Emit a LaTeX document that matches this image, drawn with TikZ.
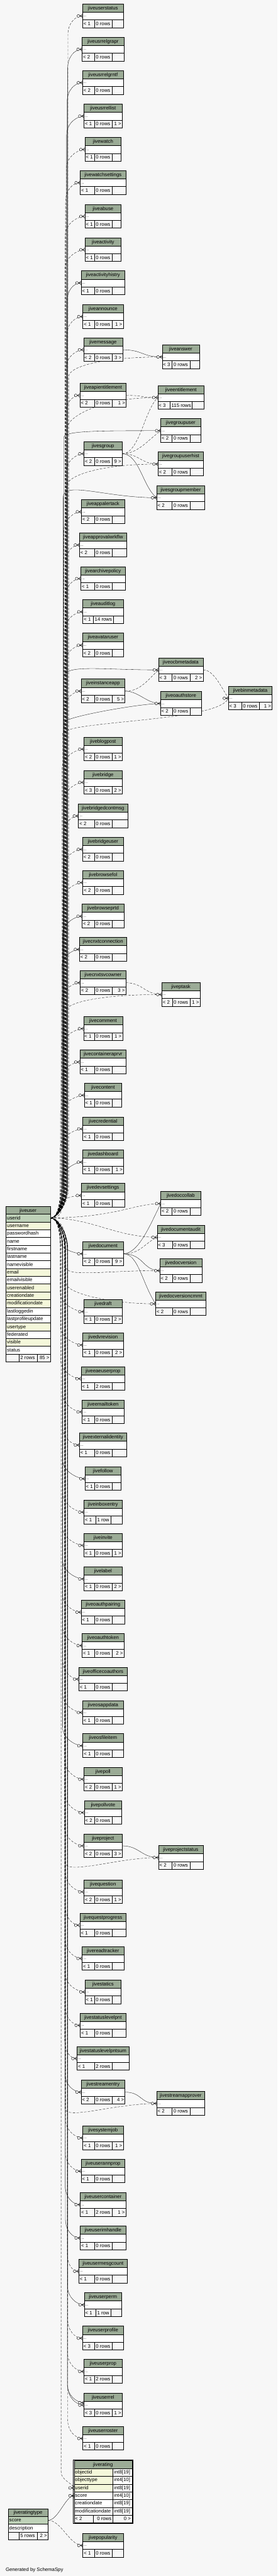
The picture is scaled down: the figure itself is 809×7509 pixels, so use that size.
\documentclass[tikz,border=0pt]{standalone}
\usepackage{fontspec}
\setmainfont{Liberation Sans}
\usetikzlibrary{calc}
\definecolor{bgc}{HTML}{F7F7F7}
\definecolor{hdc}{HTML}{9BAB96}
\definecolor{pkc}{HTML}{BED1B8}
\definecolor{ixc}{HTML}{F4F7DA}
\newcommand\tabfnt{\fontsize{14.3}{16}\selectfont}
\newcommand\dotfnt{\fontsize{11}{12}\selectfont}
\pgfdeclarelayer{bgl}
\pgfdeclarelayer{edl}
\pgfsetlayers{bgl,edl,main}
\tikzset{
 hdr/.style={draw, line width=0.9pt, fill=hdc, minimum height=24pt, inner sep=0pt, outer sep=0pt, font=\tabfnt, text height=12pt, text depth=2pt},
 brow/.style={draw, line width=0.9pt, fill=white, minimum height=22.5pt, inner sep=0pt, outer sep=0pt},
 cellst/.style={draw, line width=0.9pt, fill=bgc},
 rowc/.style={draw, line width=0.9pt, inner sep=0pt, outer sep=0pt},
 ftx/.style={font=\tabfnt, inner sep=0pt, outer sep=0pt},
 dotx/.style={font=\dotfnt, inner sep=0pt, outer sep=0pt},
 fkd/.style={line width=0.6pt, dash pattern=on 7pt off 4pt},
 fks/.style={line width=0.6pt},
 footst/.style={line width=0.8pt},
}
\newcommand\tblx[9]{%
\pgfmathsetmacro\tbL{#2-#4/2}%
\pgfmathsetmacro\tbR{#2+#4/2}%
\pgfmathsetmacro\tbA{#3+24}%
\pgfmathsetmacro\tbB{#3+46.5}%
\pgfmathsetmacro\tbC{#3+69}%
\pgfmathsetmacro\tbmL{#2-#8}%
\pgfmathsetmacro\tbmR{#2+#9}%
\pgfmathsetmacro\tbD{#3+38}%
\pgfmathsetmacro\tbF{#3+63}%
\pgfmathsetmacro\tbdx{\tbL+2.5}%
\pgfmathsetmacro\tbfl{\tbL+3}%
\pgfmathsetmacro\tbfm{\tbmL+4}%
\pgfmathsetmacro\tbfr{\tbR-3}%
\node[hdr,minimum width=#4pt,anchor=north] (#1-h) at (#2,#3) {#1};%
\node[brow,minimum width=#4pt,anchor=north] (#1) at (#2,\tbA) {};%
\node[dotx,anchor=base west] (#1-d) at (\tbdx,\tbD) {...};%
\draw[cellst] (\tbL,\tbB) rectangle (\tbmL,\tbC);%
\draw[cellst] (\tbmL,\tbB) rectangle (\tbmR,\tbC);%
\draw[cellst] (\tbmR,\tbB) rectangle (\tbR,\tbC);%
\node[ftx,anchor=base west] (#1-fl) at (\tbfl,\tbF) {#5};%
\node[ftx,anchor=base west] (#1-fm) at (\tbfm,\tbF) {#6};%
\node[ftx,anchor=base east] (#1-fr) at (\tbfr,\tbF) {#7};%
}
\newcommand\tbl[7]{\tblx{#1}{#2}{#3}{#4}{#5}{#6}{#7}{25}{26.5}}
% edge from jiveuser.userid to a table of the main column
\newcommand\uA[3]{%
\pgfmathsetmacro\fkYi{#2+35.25}%
\pgfmathsetmacro\fkD{\fkYi-3550.4}%
\pgfmathsetmacro\fkS{ifthenelse(\fkD<0,-1,1)}%
\pgfmathsetmacro\fkA{abs(\fkD)}%
\pgfmathsetmacro\fkHa{min(90,0.4*\fkA)}%
\pgfmathsetmacro\fkHb{min(55,0.35*\fkA)}%
\pgfmathsetmacro\fkX{176+22*(\fkA/3700)+mod(round(#2),7)-3}%
\pgfmathsetmacro\fkYB{3550.4+(\fkS)*\fkHa}%
\pgfmathsetmacro\fkYBc{3550.4+(\fkS)*\fkHa*0.5}%
\pgfmathsetmacro\fkYC{\fkYi-(\fkS)*\fkHb}%
\pgfmathsetmacro\fkYCc{\fkYi-(\fkS)*\fkHb*0.4}%
\begin{pgfonlayer}{edl}%
\draw[#3] (jiveuser-userid.east) .. controls (169,3550.4) and (\fkX,\fkYBc) .. (\fkX,\fkYB) -- (\fkX,\fkYC) .. controls (\fkX,\fkYCc) and +(-22,0) .. (#1.west);%
\end{pgfonlayer}}
% edge from jiveuser.userid with explicit channel parameters
\newcommand\uX[6]{%
\pgfmathsetmacro\fkD{#3-3550.4}%
\pgfmathsetmacro\fkS{ifthenelse(\fkD<0,-1,1)}%
\pgfmathsetmacro\fkA{abs(\fkD)}%
\pgfmathsetmacro\fkHa{min(90,0.4*\fkA)}%
\pgfmathsetmacro\fkYB{3550.4+(\fkS)*\fkHa}%
\pgfmathsetmacro\fkYBc{3550.4+(\fkS)*\fkHa*0.5}%
\pgfmathsetmacro\fkYCc{#3+(#4)}%
\begin{pgfonlayer}{edl}%
\draw[#6] (jiveuser-userid.east) .. controls (169,3550.4) and (#2,\fkYBc) .. (#2,\fkYB) -- (#2,#3) .. controls (#2,\fkYCc) and +(#5) .. (#1);%
\end{pgfonlayer}}
\newcommand\tedge[4]{\begin{pgfonlayer}{edl}\draw[#4] (#1) .. controls +(#3) .. (#2);\end{pgfonlayer}}
\newcommand\crow[1]{\begin{scope}[shift={(#1)}]\draw[footst] (-7,0) -- (0,-5) (-7,0) -- (0,0) (-7,0) -- (0,5);\draw[footst,fill=bgc] (-12,0) circle (4);\end{scope}}
\begin{document}
\begin{tikzpicture}[x=1pt,y=-1pt]
\begin{pgfonlayer}{bgl}
\fill[bgc] (0,0) rectangle (809,7509);
\end{pgfonlayer}
\useasboundingbox (0,0) rectangle (809,7509);

% ---------- jiveuser ----------
\node[hdr,minimum width=130.5pt,minimum height=22.5pt,anchor=north west] (jiveuser-h) at (16.5,3516.6) {jiveuser};
\foreach \nm/\cl [count=\i from 0] in {userid/pkc,username/ixc,passwordhash/white,name/white,firstname/white,lastname/white,namevisible/white,email/ixc,emailvisible/white,userenabled/ixc,creationdate/ixc,modificationdate/ixc,lastloggedin/white,lastprofileupdate/white,usertype/ixc,federated/white,visible/ixc,status/white}{
 \node[rowc,fill=\cl,minimum width=130.5pt,minimum height=22.65pt,anchor=north west] (jiveuser-\nm) at (16.5,{3539.1+\i*22.65}) {};
 \node[ftx,anchor=base west] (jiveuser-\nm-x) at (20.5,{3539.1+\i*22.65+15.6}) {\nm};
}
\draw[cellst] (16.5,3946.8) rectangle (56.2,3969.5);
\draw[cellst] (56.2,3946.8) rectangle (108.4,3969.5);
\draw[cellst] (108.4,3946.8) rectangle (147,3969.5);
\node[ftx,anchor=base west] (jiveuser-fm) at (59.5,3962.6) {2 rows};
\node[ftx,anchor=base east] (jiveuser-fr) at (144,3962.6) {85 >};

% ---------- main column ----------
\tbl{jiveuserstatus}{300.3}{11.2}{119.7}{< 1}{0 rows}{}
\tbl{jiveusrrelgrapr}{300.3}{108.5}{121.8}{< 2}{0 rows}{}
\tbl{jiveusrrelgrntf}{300.3}{205.7}{119.7}{< 2}{0 rows}{}
\tbl{jiveusrrellist}{300.3}{303.3}{111.5}{< 1}{0 rows}{1 >}
\tbl{jivewatch}{300.3}{400.6}{105.3}{< 1}{0 rows}{}
\tbl{jivewatchsettings}{300.3}{497.4}{133.1}{< 1}{0 rows}{}
\tbl{jiveabuse}{300.3}{595.4}{105.3}{< 1}{0 rows}{}
\tbl{jiveactivity}{300.3}{692.7}{105.3}{< 1}{0 rows}{}
\tbl{jiveactivityhistry}{300.3}{789.5}{128}{< 1}{0 rows}{}
\tbl{jiveannounce}{300.3}{887.6}{117.6}{< 1}{0 rows}{1 >}
\tbl{jivemessage}{300.3}{984.4}{113.5}{< 2}{0 rows}{3 >}
\tbl{jiveapientitlement}{300.3}{1117.4}{135.2}{< 2}{0 rows}{1 >}
\tbl{jivesgroup}{300.3}{1287.4}{111.5}{< 2}{0 rows}{9 >}
\tbl{jiveappalertack}{300.3}{1456.6}{125.9}{< 2}{0 rows}{}
\tbl{jiveapprovalwrkflw}{300.3}{1553.4}{137.3}{< 2}{0 rows}{}
\tbl{jivearchivepolicy}{300.3}{1651.4}{129.5}{< 1}{0 rows}{}
\tblx{jiveauditlog}{300.3}{1748.2}{117.6}{< 1}{14 rows}{}{28}{31}
\tbl{jiveavataruser}{300.3}{1845.5}{119.7}{< 2}{0 rows}{}
\tbl{jiveinstanceapp}{300.3}{1979.3}{128}{< 2}{0 rows}{5 >}
\tbl{jiveblogpost}{300.3}{2148.5}{111.5}{< 2}{0 rows}{1 >}
\tbl{jivebridge}{300.3}{2245.3}{111.5}{< 3}{0 rows}{2 >}
\tbl{jivebridgedcontmsg}{300.3}{2343.3}{143.4}{< 2}{0 rows}{}
\tbl{jivebridgeuser}{300.3}{2440.6}{119.7}{< 2}{0 rows}{}
\tbl{jivebrowsefol}{300.3}{2537.5}{117.6}{< 2}{0 rows}{}
\tbl{jivebrowseprtd}{300.3}{2635.5}{121.8}{< 2}{0 rows}{}
\tbl{jivecnxtconnection}{300.3}{2732.3}{137.3}{< 2}{0 rows}{}
\tbl{jivecnxtsvcowner}{300.3}{2829.5}{133.1}{< 2}{0 rows}{3 >}
\tbl{jivecomment}{300.3}{2963.3}{113.5}{< 1}{0 rows}{1 >}
\tbl{jivecontaineraprvr}{300.3}{3060.6}{135.2}{< 1}{0 rows}{}
\tbl{jivecontent}{300.3}{3157.5}{109.4}{< 1}{0 rows}{}
\tbl{jivecredential}{300.3}{3255.5}{117.6}{< 1}{0 rows}{}
\tbl{jivedashboard}{300.3}{3352.3}{119.7}{< 1}{0 rows}{1 >}
\tbl{jivedevsettings}{300.3}{3449.5}{125.9}{< 1}{0 rows}{}
\tbl{jivedocument}{300.3}{3619.5}{117.6}{< 2}{0 rows}{9 >}
\tbl{jivedraft}{300.3}{3788.3}{111.5}{< 1}{0 rows}{2 >}
\tbl{jivedvrevision}{300.3}{3885.5}{117.6}{< 1}{0 rows}{2 >}
\tbl{jiveeaeuserprop}{300.3}{3983.6}{128}{< 1}{2 rows}{}
\tbl{jiveemailtoken}{300.3}{4080.4}{121.8}{< 1}{0 rows}{}
\tbl{jiveexternalidentity}{300.3}{4177.2}{137.3}{< 1}{0 rows}{}
\tbl{jivefollow}{300.3}{4275.2}{105.3}{< 1}{0 rows}{}
\tblx{jiveinboxentry}{300.3}{4372.5}{111.5}{< 1}{1 row}{}{21}{23}
\tbl{jiveinvite}{300.3}{4469.4}{111.5}{< 1}{0 rows}{1 >}
\tbl{jivelabel}{300.3}{4567.4}{111.5}{< 1}{0 rows}{2 >}
\tbl{jiveoauthpairing}{300.3}{4664.2}{128}{< 1}{0 rows}{}
\tbl{jiveoauthtoken}{300.3}{4761.5}{121.8}{< 1}{0 rows}{2 >}
\tbl{jiveofficecoauthors}{300.3}{4859.5}{141.4}{< 1}{0 rows}{}
\tbl{jiveosappdata}{300.3}{4956.7}{119.7}{< 1}{0 rows}{}
\tbl{jiveosfileitem}{300.3}{5053.6}{117.6}{< 1}{0 rows}{}
\tbl{jivepoll}{300.3}{5151.2}{111.5}{< 2}{0 rows}{1 >}
\tbl{jivepollvote}{300.3}{5248.5}{109.4}{< 2}{0 rows}{}
\tbl{jiveproject}{300.3}{5345.3}{111.5}{< 2}{0 rows}{3 >}
\tbl{jivequestion}{300.3}{5479.5}{111.5}{< 2}{0 rows}{1 >}
\tbl{jivequestprogress}{300.3}{5576.7}{135.2}{< 1}{0 rows}{}
\tbl{jivereadtracker}{300.3}{5673.6}{121.8}{< 1}{0 rows}{}
\tbl{jivestatics}{300.3}{5771.2}{105.3}{< 1}{0 rows}{}
\tbl{jivestatuslevelpnt}{300.3}{5868.5}{133.1}{< 1}{0 rows}{}
\tbl{jivestatuslevelpntsum}{300.3}{5965.3}{151.7}{< 1}{2 rows}{}
\tbl{jivestreamentry}{300.3}{6063.3}{128}{< 2}{0 rows}{4 >}
\tbl{jivesystemjob}{300.3}{6196.7}{117.6}{< 1}{0 rows}{1 >}
\tbl{jiveuserannprop}{300.3}{6293.6}{128}{< 1}{0 rows}{}
\tbl{jiveusercontainer}{300.3}{6391.2}{133.1}{< 1}{2 rows}{1 >}
\tbl{jiveuserimhandle}{300.3}{6488.5}{133.1}{< 1}{0 rows}{}
\tbl{jiveusermesgcount}{300.3}{6585.3}{141.4}{< 1}{0 rows}{}
\tblx{jiveuserperm}{300.3}{6683.3}{109.4}{< 1}{1 row}{}{21}{23}
\tbl{jiveuserprofile}{300.3}{6780.6}{119.7}{< 3}{0 rows}{}
\tbl{jiveuserprop}{300.3}{6877.6}{111.5}{< 1}{2 rows}{}
\tbl{jiveuserrel}{300.3}{6975.5}{111.5}{< 3}{0 rows}{1 >}
\tbl{jiveuserroster}{300.3}{7072.7}{117.6}{< 1}{0 rows}{}
\tbl{jivepopularity}{300.3}{7384.6}{117.6}{< 1}{0 rows}{}

% ---------- second column ----------
\tbl{jiveanswer}{526.8}{1005.3}{108.4}{< 3}{0 rows}{}
\tblx{jiveentitlement}{527.4}{1123.4}{135.2}{< 3}{115 rows}{}{31.5}{33}
\tbl{jivegroupuser}{526.8}{1220.2}{116.6}{< 2}{0 rows}{}
\tbl{jivegroupuserhist}{526.8}{1317.5}{132}{< 2}{0 rows}{}
\tbl{jivesgroupmember}{526.8}{1415.6}{140.3}{< 2}{0 rows}{}
\tbl{jiveocbmetadata}{526.8}{1917.5}{130}{< 3}{0 rows}{2 >}
\tbl{jiveoauthstore}{527.4}{2015.5}{119.7}{< 2}{0 rows}{}
\tbl{jiveptask}{527.3}{2863.7}{111.5}{< 2}{0 rows}{1 >}
\tbl{jivedoccollab}{526.8}{3473.2}{116.6}{< 2}{0 rows}{}
\tbl{jivedocumentaudit}{527}{3571.3}{138.3}{< 3}{0 rows}{}
\tbl{jivedocversion}{527}{3668.5}{122.8}{< 2}{0 rows}{}
\tbl{jivedocversioncmmt}{527}{3765.4}{146.5}{< 2}{0 rows}{}
\tbl{jiveprojectstatus}{526.8}{5379.4}{130}{< 2}{0 rows}{}
\tbl{jivestreamapprover}{526.8}{6096.3}{140.3}{< 2}{0 rows}{}
\tbl{jivebinmetadata}{729.4}{2000.2}{127.5}{< 3}{0 rows}{1 >}

% ---------- jiverating ----------
\draw[line width=1.6pt] (213.4,7170.4) rectangle (387.2,7355.2);
\node[hdr,minimum width=168.6pt,minimum height=23.7pt,anchor=north west] (jiverating-h) at (216,7172) {jiverating};
\foreach \nm/\ty/\cl [count=\i from 0] in {objectid/int8[19]/ixc,objecttype/int4[10]/ixc,userid/int8[19]/ixc,score/int4[10]/white,creationdate/int8[19]/white,modificationdate/int8[19]/white}{
 \node[rowc,fill=\cl,minimum width=113.2pt,minimum height=22.6pt,anchor=north west] (jiverating-\nm) at (216,{7195.7+\i*22.6}) {};
 \node[rowc,fill=white,minimum width=55.4pt,minimum height=22.6pt,anchor=north west] (jiverating-\nm-t) at (329.2,{7195.7+\i*22.6}) {};
 \node[ftx,anchor=base west] (jiverating-\nm-x) at (219,{7195.7+\i*22.6+15.6}) {\nm};
 \node[ftx,anchor=base west] (jiverating-\nm-y) at (332.5,{7195.7+\i*22.6+15.6}) {\ty};
}
\draw[cellst] (216,7331.3) rectangle (272,7353.9);
\draw[cellst] (272,7331.3) rectangle (329.2,7353.9);
\draw[cellst] (329.2,7331.3) rectangle (384.6,7353.9);
\node[ftx,anchor=base west] (jiverating-fl) at (219,7347) {< 2};
\node[ftx,anchor=base east] (jiverating-fm) at (325,7347) {0 rows};
\node[ftx,anchor=base east] (jiverating-fr) at (381,7347) {0 >};

% ---------- jiveratingtype ----------
\node[hdr,minimum width=116.1pt,minimum height=22.8pt,anchor=north west] (jiveratingtype-h) at (23.7,7312.6) {jiveratingtype};
\node[rowc,fill=pkc,minimum width=116.1pt,minimum height=22.6pt,anchor=north west] (jiveratingtype-score) at (23.7,7335.4) {};
\node[ftx,anchor=base west] (jiveratingtype-score-x) at (27,7351) {score};
\node[rowc,fill=white,minimum width=116.1pt,minimum height=22.6pt,anchor=north west] (jiveratingtype-description) at (23.7,7358) {};
\node[ftx,anchor=base west] (jiveratingtype-description-x) at (27,7373.6) {description};
\draw[cellst] (23.7,7380.6) rectangle (56.2,7403.2);
\draw[cellst] (56.2,7380.6) rectangle (108.4,7403.2);
\draw[cellst] (108.4,7380.6) rectangle (139.8,7403.2);
\node[ftx,anchor=base west] (jiveratingtype-fm) at (59.5,7396.3) {5 rows};
\node[ftx,anchor=base east] (jiveratingtype-fr) at (137,7396.3) {2 >};

\node[ftx,anchor=base west] (gen) at (16.5,7496) {Generated by SchemaSpy};

% ---------- edges from jiveuser to the main column ----------
\uA{jiveuserstatus}{11.2}{fkd}
\uA{jiveusrrelgrapr}{108.5}{fks}
\uA{jiveusrrelgrntf}{205.7}{fks}
\uA{jiveusrrellist}{303.3}{fks}
\uA{jivewatch}{400.6}{fkd}
\uA{jivewatchsettings}{497.4}{fkd}
\uA{jiveabuse}{595.4}{fkd}
\uA{jiveactivity}{692.7}{fkd}
\uA{jiveactivityhistry}{789.5}{fks}
\uA{jiveannounce}{887.6}{fkd}
\uA{jivemessage}{984.4}{fkd}
\uA{jiveapientitlement}{1117.4}{fkd}
\uA{jivesgroup}{1287.4}{fkd}
\uA{jiveappalertack}{1456.6}{fkd}
\uA{jiveapprovalwrkflw}{1553.4}{fkd}
\uA{jivearchivepolicy}{1651.4}{fkd}
\uA{jiveauditlog}{1748.2}{fkd}
\uA{jiveavataruser}{1845.5}{fkd}
\uA{jiveinstanceapp}{1979.3}{fkd}
\uA{jiveblogpost}{2148.5}{fkd}
\uA{jivebridge}{2245.3}{fkd}
\uA{jivebridgedcontmsg}{2343.3}{fkd}
\uA{jivebridgeuser}{2440.6}{fkd}
\uA{jivebrowsefol}{2537.5}{fkd}
\uA{jivebrowseprtd}{2635.5}{fks}
\uA{jivecnxtconnection}{2732.3}{fks}
\uA{jivecnxtsvcowner}{2829.5}{fkd}
\uA{jivecomment}{2963.3}{fkd}
\uA{jivecontaineraprvr}{3060.6}{fkd}
\uA{jivecontent}{3157.5}{fkd}
\uA{jivecredential}{3255.5}{fkd}
\uA{jivedashboard}{3352.3}{fks}
\uA{jivedevsettings}{3449.5}{fkd}
\uA{jivedocument}{3619.5}{fks}
\uA{jivedraft}{3788.3}{fkd}
\uA{jivedvrevision}{3885.5}{fkd}
\uA{jiveeaeuserprop}{3983.6}{fkd}
\uA{jiveemailtoken}{4080.4}{fkd}
\uA{jiveexternalidentity}{4177.2}{fkd}
\uA{jivefollow}{4275.2}{fks}
\uA{jiveinboxentry}{4372.5}{fkd}
\uA{jiveinvite}{4469.4}{fkd}
\uA{jivelabel}{4567.4}{fks}
\uA{jiveoauthpairing}{4664.2}{fkd}
\uA{jiveoauthtoken}{4761.5}{fkd}
\uA{jiveofficecoauthors}{4859.5}{fkd}
\uA{jiveosappdata}{4956.7}{fkd}
\uA{jiveosfileitem}{5053.6}{fks}
\uA{jivepoll}{5151.2}{fkd}
\uA{jivepollvote}{5248.5}{fkd}
\uA{jiveproject}{5345.3}{fkd}
\uA{jivequestion}{5479.5}{fkd}
\uA{jivequestprogress}{5576.7}{fkd}
\uA{jivereadtracker}{5673.6}{fkd}
\uA{jivestatics}{5771.2}{fkd}
\uA{jivestatuslevelpnt}{5868.5}{fkd}
\uA{jivestatuslevelpntsum}{5965.3}{fkd}
\uA{jivestreamentry}{6063.3}{fks}
\uA{jivesystemjob}{6196.7}{fkd}
\uA{jiveuserannprop}{6293.6}{fkd}
\uA{jiveusercontainer}{6391.2}{fks}
\uA{jiveuserimhandle}{6488.5}{fks}
\uA{jiveusermesgcount}{6585.3}{fkd}
\uA{jiveuserperm}{6683.3}{fks}
\uA{jiveuserprofile}{6780.6}{fkd}
\uA{jiveuserprop}{6877.6}{fkd}
\uA{jiveuserrel}{6975.5}{fks}
\uX{[yshift=7pt]jiveuserrel.west}{196}{6949}{33}{-22,0}{fks}
\uA{jiveuserroster}{7072.7}{fkd}

% ---------- edges from jiveuser to other columns ----------
\uX{jiveanswer.west}{200}{1098}{-30}{-170,0}{fkd}
\uX{jiveentitlement.west}{196}{1247}{-30}{-170,0}{fkd}
\uX{jivegroupuser.west}{186}{1275}{-20}{-170,0}{fks}
\uX{jivegroupuserhist.west}{194}{1417}{-30}{-170,0}{fkd}
\uX{jivesgroupmember.west}{184}{1450}{-50}{-150,0}{fks}
\uX{jiveocbmetadata.west}{186}{1975}{-40}{-170,0}{fks}
\uX{jiveoauthstore.west}{188}{2105}{-15}{-60,0}{fks}
\uX{jivebinmetadata.west}{182}{2140}{-40}{-30,70}{fkd}
\uX{jiveptask.west}{190}{2950}{-30}{-170,0}{fkd}
\uX{jivedocversion.west}{190}{3690}{35}{-170,0}{fkd}
\uX{jivedocversioncmmt.west}{192}{3740}{30}{-130,0}{fkd}
\uX{jiveprojectstatus.west}{190}{5428}{40}{-120,0}{fkd}
\uX{jivestreamapprover.west}{190}{6146}{35}{-120,0}{fkd}
\uX{jiverating-userid.west}{178}{7205}{25}{-6,-15}{fkd}
\tedge{jiveuser-userid.east}{jivedoccollab.west}{200,-3) and +(-80,0}{fkd}
\tedge{jiveuser-userid.east}{jivedocumentaudit.west}{120,0) and +(-120,0}{fkd}

% ---------- edges between other tables ----------
\tedge{jivemessage.east}{jiveanswer.west}{60,0) and +(-60,0}{fks}
\tedge{jiveapientitlement.east}{jiveentitlement.west}{60,0) and +(-60,0}{fkd}
\tedge{jivesgroup.east}{jiveentitlement.west}{50,0) and +(-40,40}{fkd}
\tedge{jivesgroup.east}{jivegroupuser.west}{45,0) and +(-40,30}{fkd}
\tedge{jivesgroup.east}{jivegroupuserhist.west}{50,0) and +(-50,0}{fkd}
\tedge{jivesgroup.east}{jivesgroupmember.west}{50,0) and +(-40,-30}{fks}
\tedge{jiveinstanceapp.east}{jiveocbmetadata.west}{40,0) and +(-40,40}{fkd}
\tedge{jiveinstanceapp.east}{jiveoauthstore.west}{40,0) and +(-40,0}{fks}
\tedge{jiveocbmetadata.east}{jivebinmetadata.west}{30,0) and +(-25,-40}{fkd}
\tedge{jivecnxtsvcowner.east}{jiveptask.west}{50,0) and +(-50,0}{fkd}
\tedge{jivedocument.east}{jivedoccollab.west}{45,0) and +(-30,60}{fks}
\tedge{jivedocument.east}{jivedocumentaudit.west}{50,0) and +(-40,20}{fkd}
\tedge{jivedocument.east}{jivedocversion.west}{60,0) and +(-50,0}{fks}
\tedge{jivedocument.east}{jivedocversioncmmt.west}{45,0) and +(-40,-60}{fks}
\tedge{jiveproject.east}{jiveprojectstatus.west}{50,0) and +(-50,0}{fks}
\tedge{jivestreamentry.east}{jivestreamapprover.west}{50,0) and +(-50,0}{fks}
\tedge{jiveratingtype-score.east}{jiverating-score.west}{30,0) and +(-25,0}{fks}
\tedge{jiveratingtype-score.east}{jivepopularity.west}{40,0) and +(-40,0}{fkd}

% ---------- crow's feet ----------
\foreach \tn in {jiveuserstatus,jiveusrrelgrapr,jiveusrrelgrntf,jiveusrrellist,jivewatch,jivewatchsettings,jiveabuse,jiveactivity,jiveactivityhistry,jiveannounce,jivemessage,jiveapientitlement,jivesgroup,jiveappalertack,jiveapprovalwrkflw,jivearchivepolicy,jiveauditlog,jiveavataruser,jiveinstanceapp,jiveblogpost,jivebridge,jivebridgedcontmsg,jivebridgeuser,jivebrowsefol,jivebrowseprtd,jivecnxtconnection,jivecnxtsvcowner,jivecomment,jivecontaineraprvr,jivecontent,jivecredential,jivedashboard,jivedevsettings,jivedocument,jivedraft,jivedvrevision,jiveeaeuserprop,jiveemailtoken,jiveexternalidentity,jivefollow,jiveinboxentry,jiveinvite,jivelabel,jiveoauthpairing,jiveoauthtoken,jiveofficecoauthors,jiveosappdata,jiveosfileitem,jivepoll,jivepollvote,jiveproject,jivequestion,jivequestprogress,jivereadtracker,jivestatics,jivestatuslevelpnt,jivestatuslevelpntsum,jivestreamentry,jivesystemjob,jiveuserannprop,jiveusercontainer,jiveuserimhandle,jiveusermesgcount,jiveuserperm,jiveuserprofile,jiveuserprop,jiveuserrel,jiveuserroster,jivepopularity,jiveanswer,jiveentitlement,jivegroupuser,jivegroupuserhist,jivesgroupmember,jiveocbmetadata,jiveoauthstore,jiveptask,jivedoccollab,jivedocumentaudit,jivedocversion,jivedocversioncmmt,jiveprojectstatus,jivestreamapprover,jivebinmetadata,jiverating-userid,jiverating-score}{\crow{\tn.west}}
\crow{[yshift=7pt]jiveuserrel.west}
\end{tikzpicture}
\end{document}
